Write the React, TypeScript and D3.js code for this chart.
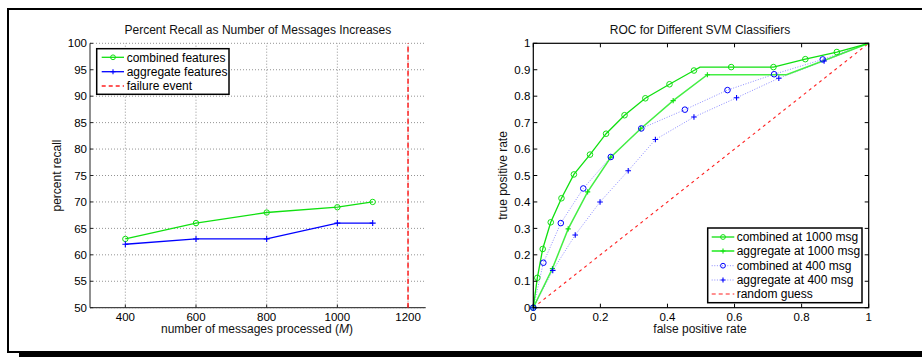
import * as d3 from "d3";

// left chart: recall vs messages processed
const recallMsgs = [400, 600, 800, 1000, 1100];
const recallCombined = [63, 66, 68, 69, 70];
const recallAggregate = [62, 63, 63, 66, 66];
const failureAt = 1200;
const recallXTicks = [400, 600, 800, 1000, 1200];
const recallYTicks = [50, 55, 60, 65, 70, 75, 80, 85, 90, 95, 100];

// right chart: ROC curves (fpr, tpr)
const comb1000Fpr = [0, 0.012, 0.028, 0.052, 0.084, 0.121, 0.169, 0.217, 0.272, 0.334, 0.406, 0.479, 0.59, 0.716, 0.811, 0.905, 1];
const comb1000Tpr = [0, 0.113, 0.222, 0.323, 0.414, 0.504, 0.579, 0.658, 0.728, 0.792, 0.845, 0.897, 0.91, 0.91, 0.94, 0.967, 1];
const comb1000Knees = [[0.497, 0.91]];

const agg1000Fpr = [0, 0.057, 0.104, 0.162, 0.231, 0.32, 0.417, 0.519];
const agg1000Tpr = [0, 0.148, 0.298, 0.438, 0.569, 0.677, 0.783, 0.881];
const agg1000Tail = [[0.755, 0.881], [0.865, 0.934], [1, 1]];

const comb400Fpr = [0, 0.03, 0.082, 0.149, 0.231, 0.322, 0.452, 0.579, 0.718, 0.863, 1];
const comb400Tpr = [0, 0.17, 0.32, 0.451, 0.57, 0.678, 0.749, 0.823, 0.883, 0.939, 1];

const agg400Fpr = [0, 0.058, 0.125, 0.199, 0.283, 0.364, 0.479, 0.606, 0.732, 0.867, 1];
const agg400Tpr = [0, 0.141, 0.275, 0.4, 0.518, 0.636, 0.721, 0.794, 0.868, 0.933, 1];

const rocYTicks = [0, 0.1, 0.2, 0.3, 0.4, 0.5, 0.6, 0.7, 0.8, 0.9, 1];
const rocXTicks = [0, 0.2, 0.4, 0.6, 0.8, 1];

const FONT = "'Liberation Sans', Arial, Helvetica, sans-serif";
const GREEN = "#10e010";
const GREEN2 = "#44ee44";
const BLUE = "#0000ff";
const RED = "#ff2020";

const pts = (xs: number[], ys: number[]) => xs.map((x, i) => [x, ys[i]] as [number, number]);

const Plus = ({ x, y, c, s = 3 }: any) => (
  <path d={`M${x - s},${y}H${x + s}M${x},${y - s}V${y + s}`} stroke={c} strokeWidth={1.1} fill="none" />
);
const Ring = ({ x, y, c, r = 2.7 }: any) => (
  <circle cx={x} cy={y} r={r} stroke={c} strokeWidth={1} fill="none" />
);

const fmt = (v: number) => (v === 0 || v === 1 ? String(v) : v.toFixed(1));

function RecallChart() {
  const x = d3.scaleLinear().domain([300, 1250]).range([90, 425.7]);
  const y = d3.scaleLinear().domain([50, 100]).range([307.7, 43.3]);
  const line = d3.line<[number, number]>().x(d => x(d[0])).y(d => y(d[1]));
  const comb = pts(recallMsgs, recallCombined);
  const agg = pts(recallMsgs, recallAggregate);
  const [x0, x1] = x.range();
  const [y0, y1] = y.range();
  return (
    <g fontFamily={FONT}>
      {recallYTicks.map(t => (
        <line key={"gy" + t} x1={x0} x2={x1} y1={y(t)} y2={y(t)} stroke="#777" strokeWidth={0.8} strokeDasharray="1,2" />
      ))}
      {recallXTicks.map(t => (
        <line key={"gx" + t} x1={x(t)} x2={x(t)} y1={y0} y2={y1} stroke="#777" strokeWidth={0.8} strokeDasharray="1,2" />
      ))}
      <line x1={x0} x2={x0} y1={y0} y2={y1} stroke="#222" strokeWidth={1} />
      <line x1={x0} x2={x1} y1={y0} y2={y0} stroke="#444" strokeWidth={1.3} />
      {recallYTicks.map(t => (
        <g key={"ty" + t}>
          <line x1={x0} x2={x0 + 3} y1={y(t)} y2={y(t)} stroke="#222" />
          <text x={x0 - 3} y={y(t)} dy="0.36em" textAnchor="end" fontSize={11.5}>{t}</text>
        </g>
      ))}
      {recallXTicks.map(t => (
        <g key={"tx" + t}>
          <line x1={x(t)} x2={x(t)} y1={y0} y2={y0 - 3} stroke="#222" />
          <text x={x(t)} y={320.5} textAnchor="middle" fontSize={11.5}>{t}</text>
        </g>
      ))}
      <line x1={x(failureAt)} x2={x(failureAt)} y1={y0} y2={y1} stroke={RED} strokeWidth={1.5} strokeDasharray="5,3" />
      <path d={line(comb) || ""} stroke={GREEN} strokeWidth={1.3} fill="none" />
      <path d={line(agg) || ""} stroke={BLUE} strokeWidth={1.3} fill="none" />
      {comb.map((d, i) => <Ring key={"c" + i} x={x(d[0])} y={y(d[1])} c={GREEN} />)}
      {agg.map((d, i) => <Plus key={"a" + i} x={x(d[0])} y={y(d[1])} c={BLUE} />)}
      <text x={257.9} y={34} textAnchor="middle" fontSize={12} fill="#111">Percent Recall as Number of Messages Increases</text>
      <text x={257} y={333} textAnchor="middle" fontSize={12} fill="#111">
        number of messages processed (<tspan fontStyle="italic">M</tspan>)
      </text>
      <text transform={`translate(61,${(y0 + y1) / 2}) rotate(-90)`} textAnchor="middle" fontSize={12} fill="#111">percent recall</text>
      <rect x={96.7} y={48.7} width={132.3} height={45.6} fill="white" stroke="black" strokeWidth={1.5} />
      <line x1={101.7} x2={124} y1={57.3} y2={57.3} stroke={GREEN} strokeWidth={1.3} />
      <Ring x={113} y={57.3} c={GREEN} r={2.4} />
      <text x={126.7} y={57.3} dy="0.36em" fontSize={12}>combined features</text>
      <line x1={101.7} x2={124} y1={71.7} y2={71.7} stroke={BLUE} strokeWidth={1.3} />
      <Plus x={113} y={71.7} c={BLUE} s={2.5} />
      <text x={126.7} y={71.7} dy="0.36em" fontSize={12}>aggregate features</text>
      <line x1={101.7} x2={124} y1={86} y2={86} stroke={RED} strokeWidth={1.3} strokeDasharray="4,3" />
      <text x={126.7} y={86} dy="0.36em" fontSize={12}>failure event</text>
    </g>
  );
}

function RocChart() {
  const x = d3.scaleLinear().domain([0, 1]).range([533.3, 868.7]);
  const y = d3.scaleLinear().domain([0, 1]).range([307.7, 43.3]);
  const line = d3.line<[number, number]>().x(d => x(d[0])).y(d => y(d[1]));
  const [x0, x1] = x.range();
  const [y0, y1] = y.range();
  const comb1000 = pts(comb1000Fpr, comb1000Tpr);
  const comb1000Line = [...comb1000.slice(0, 12), ...(comb1000Knees as [number, number][]), ...comb1000.slice(12)];
  const agg1000 = pts(agg1000Fpr, agg1000Tpr);
  const agg1000Line = [...agg1000, ...(agg1000Tail as [number, number][])];
  const comb400 = pts(comb400Fpr, comb400Tpr);
  const agg400 = pts(agg400Fpr, agg400Tpr);
  const rows = [237, 251, 265.7, 280, 294];
  return (
    <g fontFamily={FONT}>
      <line x1={x(0)} y1={y(0)} x2={x(1)} y2={y(1)} stroke={RED} strokeWidth={1.1} strokeDasharray="3,3.5" />
      <path d={line(agg400) || ""} stroke={BLUE} strokeOpacity={0.45} strokeWidth={1} strokeDasharray="1,1.6" fill="none" />
      <path d={line(comb400) || ""} stroke={BLUE} strokeOpacity={0.45} strokeWidth={1} strokeDasharray="1,1.6" fill="none" />
      <path d={line(agg1000Line) || ""} stroke={GREEN2} strokeWidth={1.5} fill="none" />
      <path d={line(comb1000Line) || ""} stroke={GREEN} strokeWidth={1.3} fill="none" />
      {comb1000.slice(0, -1).map((d, i) => <Ring key={"c1" + i} x={x(d[0])} y={y(d[1])} c={GREEN} r={2.8} />)}
      {agg1000.map((d, i) => <Plus key={"a1" + i} x={x(d[0])} y={y(d[1])} c={GREEN} s={2.6} />)}
      {comb400.slice(0, -1).map((d, i) => <Ring key={"c4" + i} x={x(d[0])} y={y(d[1])} c={BLUE} r={2.8} />)}
      {agg400.slice(0, -1).map((d, i) => <Plus key={"a4" + i} x={x(d[0])} y={y(d[1])} c={BLUE} s={2.8} />)}
      <rect x={x0} y={y1} width={x1 - x0} height={y0 - y1} fill="none" stroke="black" strokeWidth={1.2} />
      {rocYTicks.map(t => (
        <g key={"ty" + t}>
          <line x1={x0} x2={x0 + 4} y1={y(t)} y2={y(t)} stroke="black" />
          <line x1={x1} x2={x1 - 4} y1={y(t)} y2={y(t)} stroke="black" />
          <text x={x0 - 3} y={y(t)} dy="0.36em" textAnchor="end" fontSize={11.5}>{fmt(t)}</text>
        </g>
      ))}
      {rocXTicks.map(t => (
        <g key={"tx" + t}>
          <line x1={x(t)} x2={x(t)} y1={y0} y2={y0 - 4} stroke="black" />
          <line x1={x(t)} x2={x(t)} y1={y1} y2={y1 + 4} stroke="black" />
          <text x={x(t)} y={320.5} textAnchor="middle" fontSize={11.5}>{fmt(t)}</text>
        </g>
      ))}
      <text x={700} y={34} textAnchor="middle" fontSize={12} fill="#111">ROC for Different SVM Classifiers</text>
      <text x={700} y={333} textAnchor="middle" fontSize={12} fill="#111">false positive rate</text>
      <text transform={`translate(507,${(y0 + y1) / 2}) rotate(-90)`} textAnchor="middle" fontSize={12} fill="#111">true positive rate</text>
      <rect x={707.7} y={228} width={154.3} height={74.7} fill="white" stroke="black" strokeWidth={1.5} />
      <line x1={711.7} x2={734.3} y1={rows[0]} y2={rows[0]} stroke={GREEN} strokeWidth={1.3} />
      <Ring x={723} y={rows[0]} c={GREEN} r={2.4} />
      <text x={736.7} y={rows[0]} dy="0.36em" fontSize={12}>combined at 1000 msg</text>
      <line x1={711.7} x2={734.3} y1={rows[1]} y2={rows[1]} stroke={GREEN2} strokeWidth={1.8} />
      <Plus x={723} y={rows[1]} c={GREEN} s={2.4} />
      <text x={736.7} y={rows[1]} dy="0.36em" fontSize={12}>aggregate at 1000 msg</text>
      <line x1={711.7} x2={734.3} y1={rows[2]} y2={rows[2]} stroke={BLUE} strokeOpacity={0.45} strokeDasharray="1,1.6" />
      <Ring x={723} y={rows[2]} c={BLUE} r={2.4} />
      <text x={736.7} y={rows[2]} dy="0.36em" fontSize={12}>combined at 400 msg</text>
      <line x1={711.7} x2={734.3} y1={rows[3]} y2={rows[3]} stroke={BLUE} strokeOpacity={0.45} strokeDasharray="1,1.6" />
      <Plus x={723} y={rows[3]} c={BLUE} s={2.4} />
      <text x={736.7} y={rows[3]} dy="0.36em" fontSize={12}>aggregate at 400 msg</text>
      <line x1={711.7} x2={734.3} y1={rows[4]} y2={rows[4]} stroke={RED} strokeWidth={1.2} strokeDasharray="4,3" />
      <text x={736.7} y={rows[4]} dy="0.36em" fontSize={12}>random guess</text>
    </g>
  );
}

export default function App() {
  return (
    <svg width={922} height={358} style={{ position: "absolute", left: 0, top: 0, background: "white" }}>
      <rect x={0} y={0} width={922} height={358} fill="white" />
      {/* page frame with shadow */}
      <rect x={7} y={8} width={915} height={2} fill="black" />
      <rect x={7} y={8} width={2} height={345} fill="black" />
      <rect x={7} y={351} width={915} height={2} fill="black" />
      <rect x={19} y={353} width={903} height={4} fill="black" />
      <RecallChart />
      <RocChart />
    </svg>
  );
}
